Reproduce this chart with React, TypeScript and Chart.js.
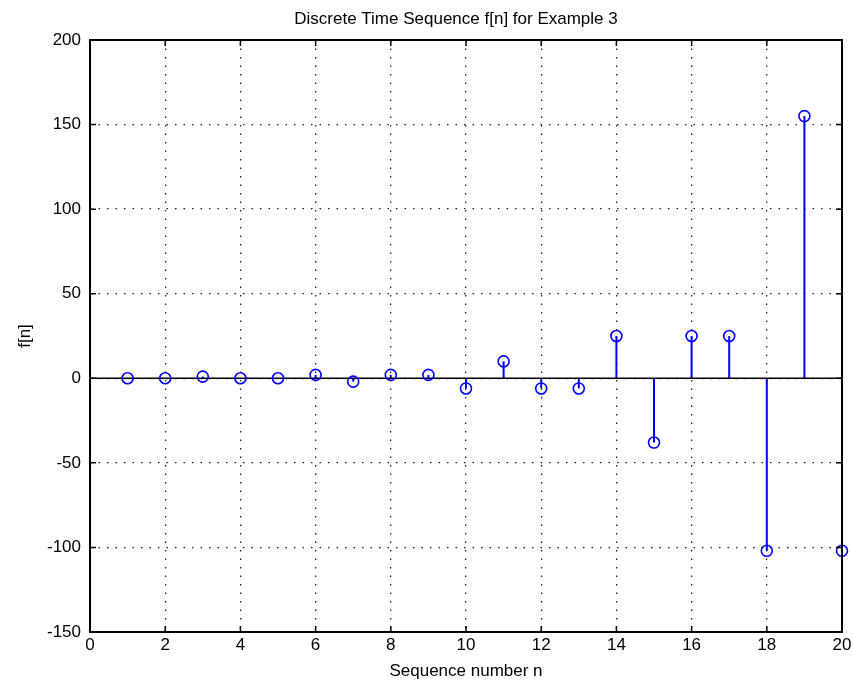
import React, { useEffect, useRef } from 'react';
import { Chart, registerables } from 'chart.js';

Chart.register(...registerables);

// ---- data ----
const sequenceN: number[] = [1, 2, 3, 4, 5, 6, 7, 8, 9, 10, 11, 12, 13, 14, 15, 16, 17, 18, 19, 20];
const fValues: number[] = [0, 0, 1, 0, 0, 2, -2, 2, 2, -6, 10, -6, -6, 25, -38, 25, 25, -102, 155, -102];
const xTickValues: number[] = [0, 2, 4, 6, 8, 10, 12, 14, 16, 18, 20];
const yTickValues: number[] = [-150, -100, -50, 0, 50, 100, 150, 200];

const chartTitle = 'Discrete Time Sequence f[n] for Example 3';
const xAxisTitle = 'Sequence number n';
const yAxisTitle = 'f[n]';

// ---- styles ----
const FONT_FAMILY = '"Liberation Sans", Arial, Helvetica, sans-serif';
const FONT_SIZE = 17;
const STEM_COLOR = '#0000ff';
const TICK_LEN = 6;

const matlabPlugin = {
  id: 'matlabStyle',
  beforeDraw(chart: any) {
    const ctx = chart.ctx;
    ctx.save();
    ctx.fillStyle = '#ffffff';
    ctx.fillRect(0, 0, chart.width, chart.height);
    ctx.restore();
  },
  beforeDatasetsDraw(chart: any) {
    const { ctx, chartArea, scales } = chart;
    const xs = scales.x;
    const ys = scales.y;
    const y0 = ys.getPixelForValue(0);
    ctx.save();
    ctx.strokeStyle = STEM_COLOR;
    ctx.lineWidth = 2;
    sequenceN.forEach((n, i) => {
      const px = xs.getPixelForValue(n);
      ctx.beginPath();
      ctx.moveTo(px, y0);
      ctx.lineTo(px, ys.getPixelForValue(fValues[i]));
      ctx.stroke();
    });
    // baseline
    ctx.strokeStyle = '#000000';
    ctx.lineWidth = 1.5;
    ctx.beginPath();
    ctx.moveTo(chartArea.left, y0);
    ctx.lineTo(chartArea.right, y0);
    ctx.stroke();
    ctx.restore();
  },
  afterDatasetsDraw(chart: any) {
    const { ctx, chartArea, scales } = chart;
    const xs = scales.x;
    const ys = scales.y;
    const { left, right, top, bottom } = chartArea;
    ctx.save();
    ctx.strokeStyle = '#000000';
    ctx.lineWidth = 1.5;
    ctx.setLineDash([]);
    ctx.beginPath();
    xTickValues.forEach((v) => {
      const px = xs.getPixelForValue(v);
      ctx.moveTo(px, bottom);
      ctx.lineTo(px, bottom - TICK_LEN);
      ctx.moveTo(px, top);
      ctx.lineTo(px, top + TICK_LEN);
    });
    yTickValues.forEach((v) => {
      const py = ys.getPixelForValue(v);
      ctx.moveTo(left, py);
      ctx.lineTo(left + TICK_LEN, py);
      ctx.moveTo(right, py);
      ctx.lineTo(right - TICK_LEN, py);
    });
    ctx.stroke();
    ctx.lineWidth = 2;
    ctx.strokeRect(left, top, right - left, bottom - top);

    // chart title (MATLAB places it slightly left of the axes centre)
    ctx.fillStyle = '#000000';
    ctx.font = `normal ${FONT_SIZE}px ${FONT_FAMILY}`;
    ctx.textAlign = 'center';
    ctx.textBaseline = 'middle';
    ctx.fillText(chartTitle, (left + right) / 2 - 10, 19);
    ctx.restore();
  },
};

export default function App() {
  const canvasRef = useRef<HTMLCanvasElement | null>(null);

  useEffect(() => {
    document.body.style.margin = '0';
    const canvas = canvasRef.current;
    if (!canvas) return;
    const font = { family: FONT_FAMILY, size: FONT_SIZE, weight: 'normal' as const };
    const chart = new Chart(canvas, {
      type: 'scatter',
      data: {
        datasets: [
          {
            label: 'f[n]',
            data: sequenceN.map((n, i) => ({ x: n, y: fValues[i] })),
            showLine: false,
            pointStyle: 'circle',
            pointRadius: 5.5,
            pointHoverRadius: 5.5,
            pointBorderWidth: 1.6,
            borderColor: STEM_COLOR,
            pointBorderColor: STEM_COLOR,
            pointBackgroundColor: 'rgba(0,0,0,0)',
            backgroundColor: 'rgba(0,0,0,0)',
            clip: false as any,
          },
        ],
      },
      options: {
        animation: false,
        responsive: false,
        maintainAspectRatio: false,
        devicePixelRatio: 1,
        events: [],
        layout: { padding: { left: 0, right: 11, top: 40, bottom: 0 } },
        plugins: {
          legend: { display: false },
          tooltip: { enabled: false },
          title: { display: false },
        },
        scales: {
          x: {
            type: 'linear',
            min: 0,
            max: 20,
            afterBuildTicks: (axis: any) => {
              axis.ticks = xTickValues.map((v) => ({ value: v }));
            },
            afterFit: (axis: any) => {
              axis.height = 52;
              axis.paddingLeft = 0;
              axis.paddingRight = 0;
            },
            ticks: {
              color: '#000000',
              font,
              padding: 3,
              maxRotation: 0,
              autoSkip: false,
            },
            grid: {
              display: true,
              color: '#222222',
              lineWidth: 1.3,
              drawTicks: false,
            },
            border: { display: false, dash: [1.5, 7] },
            title: {
              display: true,
              text: xAxisTitle,
              color: '#000000',
              font,
              padding: { top: 0, bottom: 2 },
            },
          },
          y: {
            type: 'linear',
            min: -150,
            max: 200,
            afterBuildTicks: (axis: any) => {
              axis.ticks = yTickValues.map((v) => ({ value: v }));
            },
            afterFit: (axis: any) => {
              axis.width = 90;
              axis.paddingTop = 0;
              axis.paddingBottom = 0;
            },
            ticks: {
              color: '#000000',
              font,
              padding: 9,
              autoSkip: false,
            },
            grid: {
              display: true,
              color: '#222222',
              lineWidth: 1.3,
              drawTicks: false,
            },
            border: { display: false, dash: [1.5, 7] },
            title: {
              display: true,
              text: yAxisTitle,
              color: '#000000',
              font,
              padding: { top: 15, bottom: 0 },
            },
          },
        },
      },
      plugins: [matlabPlugin],
    });
    return () => chart.destroy();
  }, []);

  return (
    <div style={{ width: 853, height: 684, position: 'relative' }}>
      <canvas ref={canvasRef} width={853} height={684} style={{ display: 'block' }} />
    </div>
  );
}
